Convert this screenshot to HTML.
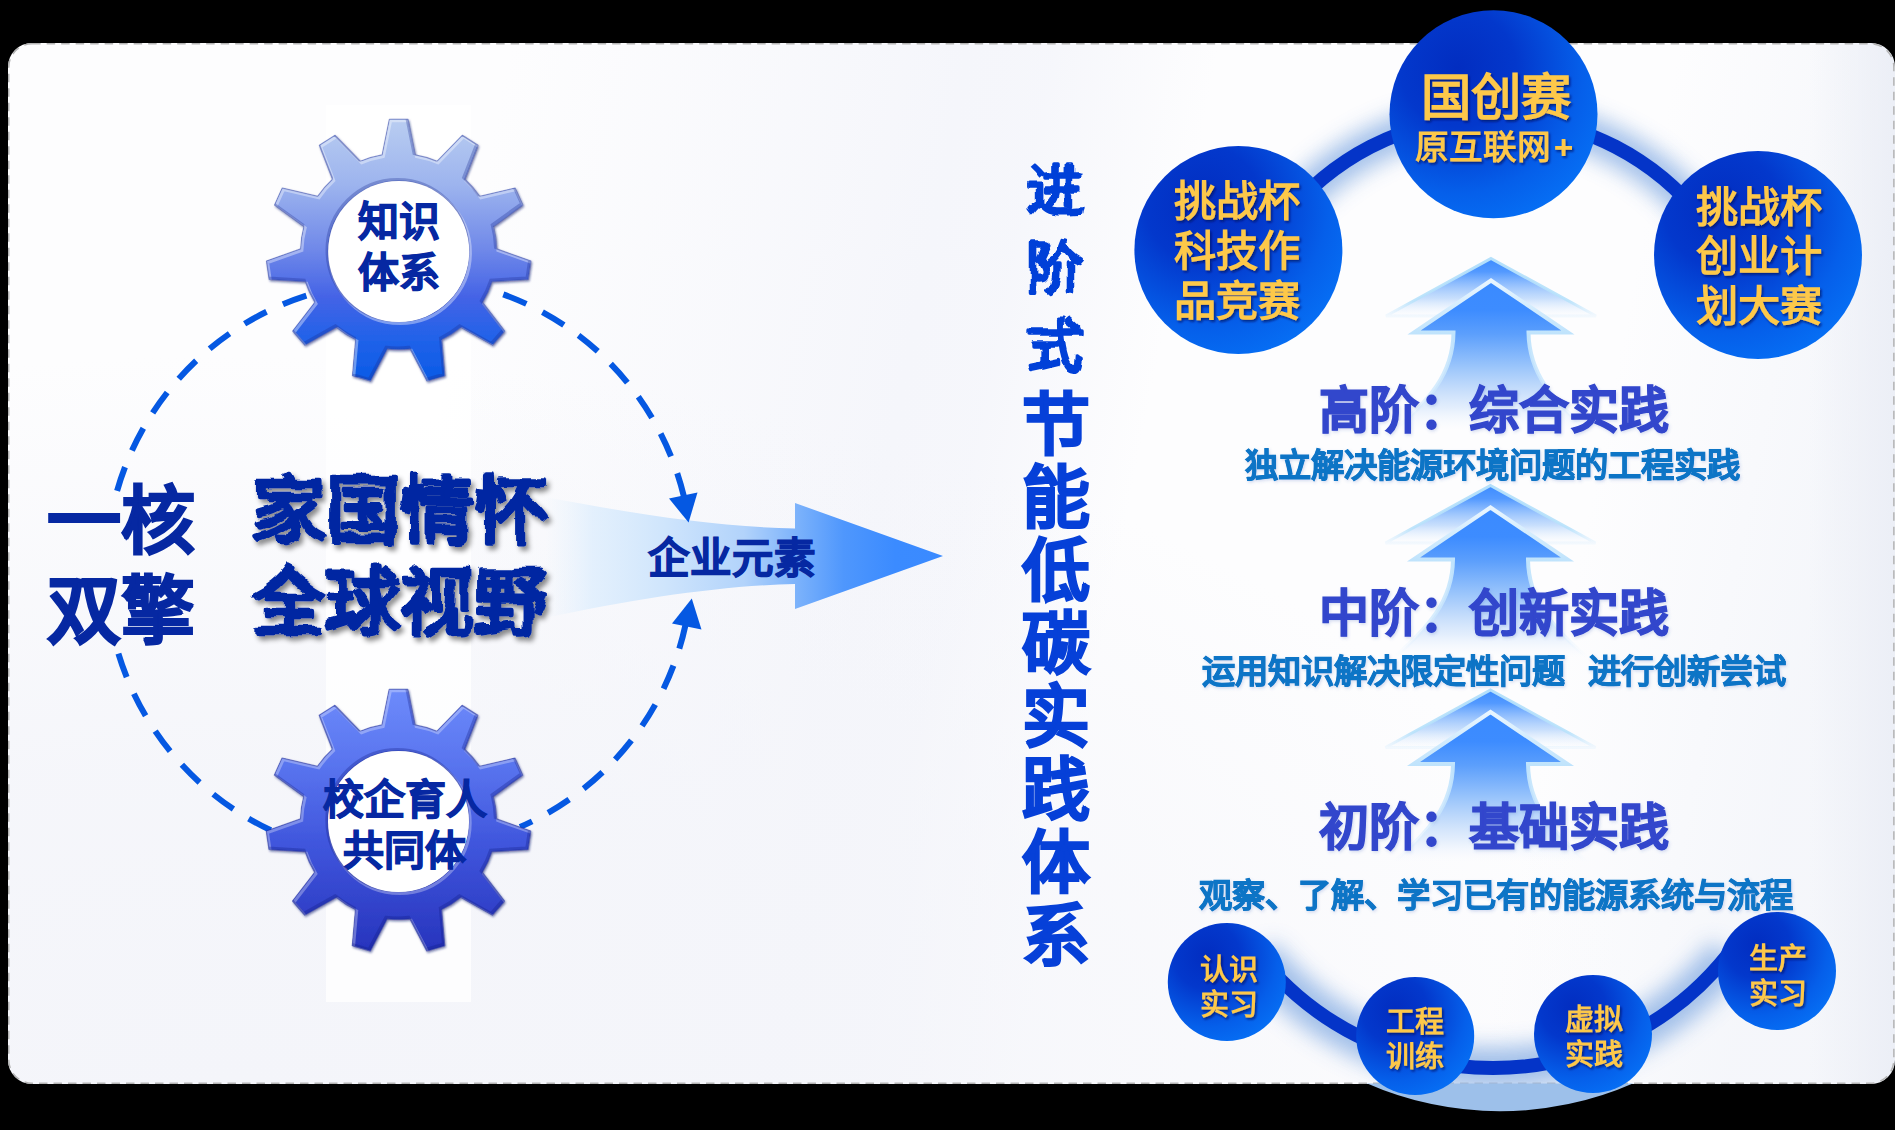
<!DOCTYPE html>
<html lang="zh-CN">
<head>
<meta charset="utf-8">
<title>进阶式节能低碳实践体系</title>
<style>
html,body{margin:0;padding:0;background:#000;}
body{width:1895px;height:1130px;position:relative;overflow:hidden;font-family:"Liberation Sans", sans-serif;}
#card{position:absolute;left:8px;top:43px;width:1886.6px;height:1041px;border-radius:24px;
  background:linear-gradient(90deg,rgba(234,237,245,0) 95.5%,rgba(234,237,245,0.85) 100%),
   radial-gradient(ellipse 75% 70% at 12% 100%,rgba(244,245,250,1) 0%,rgba(244,245,250,0.85) 45%,rgba(244,245,250,0) 100%),
   linear-gradient(101deg,rgba(245,246,251,0) 24%,rgba(245,246,251,1) 46%,rgba(245,246,251,0.9) 50%,rgba(245,246,251,0) 58%,rgba(245,246,251,0) 80%,rgba(243,245,250,0.8) 92%),
   #fdfdfe;
  box-sizing:border-box;}
#band{position:absolute;left:326px;top:105px;width:145px;height:897px;background:rgba(255,255,255,0.8);}
svg{position:absolute;left:0;top:0;}
svg text{font-family:"Liberation Sans", sans-serif;font-weight:bold;text-anchor:middle;}
svg text.cal{font-family:"Liberation Sans", sans-serif;font-weight:bold;}
</style>
</head>
<body>
<div id="card"></div>
<div id="band"></div>
<svg width="1895" height="1130" viewBox="0 0 1895 1130">
<defs>
  <linearGradient id="g1" x1="0" y1="0" x2="0" y2="1">
    <stop offset="0" stop-color="#b9cdf1"/><stop offset="0.25" stop-color="#9db4ee"/><stop offset="0.5" stop-color="#6f88e9"/><stop offset="0.68" stop-color="#4463e6"/><stop offset="0.85" stop-color="#1f62e9"/><stop offset="1" stop-color="#0a5ae6"/>
  </linearGradient>
  <linearGradient id="g2" x1="0" y1="0" x2="0" y2="1">
    <stop offset="0" stop-color="#6d8bfb"/><stop offset="0.3" stop-color="#5873ee"/><stop offset="0.6" stop-color="#3f55dc"/><stop offset="1" stop-color="#2734bd"/>
  </linearGradient>
  <radialGradient id="cg" cx="0.33" cy="0.28" r="0.8">
    <stop offset="0" stop-color="#022dc0"/><stop offset="0.35" stop-color="#0338cc"/><stop offset="0.75" stop-color="#055fea"/><stop offset="1" stop-color="#0670f5"/>
  </radialGradient>
  <linearGradient id="harrow" gradientUnits="userSpaceOnUse" x1="545" y1="0" x2="943" y2="0">
    <stop offset="0" stop-color="#e4f1fd" stop-opacity="0"/><stop offset="0.12" stop-color="#dcedfd" stop-opacity="0.75"/><stop offset="0.3" stop-color="#cfe5fc"/><stop offset="0.5" stop-color="#b2d3fb"/><stop offset="0.63" stop-color="#7db3fb"/><stop offset="0.75" stop-color="#4f97fd"/><stop offset="0.88" stop-color="#3b8bff"/><stop offset="1" stop-color="#3a8aff"/>
  </linearGradient>
  <filter id="glow" filterUnits="userSpaceOnUse" x="1000" y="0" width="895" height="1130"><feGaussianBlur stdDeviation="10.5"/></filter>
  <filter id="tsh" x="-10%" y="-20%" width="120%" height="150%"><feTurbulence type="fractalNoise" baseFrequency="0.045" numOctaves="2" seed="7" result="n"/><feDisplacementMap in="SourceGraphic" in2="n" scale="9" xChannelSelector="R" yChannelSelector="G" result="d"/><feDropShadow in="d" dx="3" dy="4" stdDeviation="2.5" flood-color="#000" flood-opacity="0.45"/></filter>
  <filter id="brush" x="-20%" y="-20%" width="140%" height="140%"><feTurbulence type="fractalNoise" baseFrequency="0.05" numOctaves="2" seed="3" result="n"/><feDisplacementMap in="SourceGraphic" in2="n" scale="8" xChannelSelector="R" yChannelSelector="G"/></filter>
  <filter id="gsh" x="-10%" y="-20%" width="120%" height="150%"><feDropShadow dx="1.5" dy="2" stdDeviation="1.2" flood-color="#001060" flood-opacity="0.7"/></filter>
  <filter id="hsh" x="-5%" y="-20%" width="110%" height="150%"><feDropShadow dx="1" dy="1.5" stdDeviation="1.5" flood-color="#4060c0" flood-opacity="0.22"/></filter>
  <filter id="gearsh" x="-10%" y="-10%" width="120%" height="120%"><feDropShadow dx="1" dy="1.5" stdDeviation="1.2" flood-color="#0a1a70" flood-opacity="0.6"/></filter>
  <clipPath id="gc1"><path d="M382.2 154.9 L389.4 119.3 L408.0 119.3 L415.2 154.9 A98 98 0 0 1 437.0 161.3 L462.3 135.3 L478.0 145.3 L464.8 179.2 A98 98 0 0 1 479.7 196.4 L515.1 188.1 L522.8 205.1 L493.4 226.4 A98 98 0 0 1 496.7 248.9 L530.9 261.1 L528.2 279.5 L492.0 281.6 A98 98 0 0 1 482.5 302.3 L504.7 331.0 L492.5 345.1 L460.9 327.2 A98 98 0 0 1 441.7 339.5 L444.9 375.7 L427.0 380.9 L410.1 348.8 A98 98 0 0 1 387.3 348.8 L370.4 380.9 L352.5 375.7 L355.7 339.5 A98 98 0 0 1 336.5 327.2 L304.9 345.1 L292.7 331.0 L314.9 302.3 A98 98 0 0 1 305.4 281.6 L269.2 279.5 L266.5 261.1 L300.7 248.9 A98 98 0 0 1 304.0 226.4 L274.6 205.1 L282.3 188.1 L317.7 196.4 A98 98 0 0 1 332.6 179.2 L319.4 145.3 L335.1 135.3 L360.4 161.3 A98 98 0 0 1 382.2 154.9 Z M328.2 251.5 A70 70 0 1 0 469.2 251.5 A70 70 0 1 0 328.2 251.5 Z" clip-rule="evenodd"/></clipPath>
  <clipPath id="gc2"><path d="M382.0 724.9 L389.2 689.3 L407.8 689.3 L415.0 724.9 A98 98 0 0 1 436.8 731.3 L462.1 705.3 L477.8 715.3 L464.6 749.2 A98 98 0 0 1 479.5 766.4 L514.9 758.1 L522.6 775.1 L493.2 796.4 A98 98 0 0 1 496.5 818.9 L530.7 831.1 L528.0 849.5 L491.8 851.6 A98 98 0 0 1 482.3 872.3 L504.5 901.0 L492.3 915.1 L460.7 897.2 A98 98 0 0 1 441.5 909.5 L444.7 945.7 L426.8 950.9 L409.9 918.8 A98 98 0 0 1 387.1 918.8 L370.2 950.9 L352.3 945.7 L355.5 909.5 A98 98 0 0 1 336.3 897.2 L304.7 915.1 L292.5 901.0 L314.7 872.3 A98 98 0 0 1 305.2 851.6 L269.0 849.5 L266.3 831.1 L300.5 818.9 A98 98 0 0 1 303.8 796.4 L274.4 775.1 L282.1 758.1 L317.5 766.4 A98 98 0 0 1 332.4 749.2 L319.2 715.3 L334.9 705.3 L360.2 731.3 A98 98 0 0 1 382.0 724.9 Z M328.0 821.5 A70 70 0 1 0 469.0 821.5 A70 70 0 1 0 328.0 821.5 Z" clip-rule="evenodd"/></clipPath>
  <clipPath id="below"><rect x="0" y="1083.5" width="1895" height="60"/></clipPath>
  <clipPath id="cardclip"><rect x="8" y="43" width="1886.6" height="1041" rx="24"/></clipPath>
</defs>

<rect x="8.75" y="43.75" width="1885.1" height="1039.5" rx="23.4" fill="none" stroke="#b4b4b4" stroke-width="1.5" stroke-dasharray="8.5 6"/>

<!-- horizontal arrow -->
<path d="M545 497 C640 515 720 527 795 528.5 L795 503 L943 556 L795 609 L795 584 C720 586 640 598 545 618 Z" fill="url(#harrow)"/>

<!-- dashed circle -->
<g fill="none" stroke="#0558e2" stroke-width="6" stroke-dasharray="25 18">
  <path d="M117.1 490.8 A288 288 0 0 1 312.5 293.8"/>
  <path d="M118.4 653.7 A288 288 0 0 0 284.8 836.5"/>
  <path d="M684.1 497.2 A287 287 0 0 0 487.9 289.2"/>
  <path d="M685.6 624.5 A287 287 0 0 1 520.0 827.0"/>
</g>
<path d="M688.6 522.5 L669 498.5 L697.5 492.5 Z" fill="#0558e2"/>
<path d="M691.8 598.5 L672 623.5 L701.5 629.5 Z" fill="#0558e2"/>

<!-- gears -->
<path d="M382.2 154.9 L389.4 119.3 L408.0 119.3 L415.2 154.9 A98 98 0 0 1 437.0 161.3 L462.3 135.3 L478.0 145.3 L464.8 179.2 A98 98 0 0 1 479.7 196.4 L515.1 188.1 L522.8 205.1 L493.4 226.4 A98 98 0 0 1 496.7 248.9 L530.9 261.1 L528.2 279.5 L492.0 281.6 A98 98 0 0 1 482.5 302.3 L504.7 331.0 L492.5 345.1 L460.9 327.2 A98 98 0 0 1 441.7 339.5 L444.9 375.7 L427.0 380.9 L410.1 348.8 A98 98 0 0 1 387.3 348.8 L370.4 380.9 L352.5 375.7 L355.7 339.5 A98 98 0 0 1 336.5 327.2 L304.9 345.1 L292.7 331.0 L314.9 302.3 A98 98 0 0 1 305.4 281.6 L269.2 279.5 L266.5 261.1 L300.7 248.9 A98 98 0 0 1 304.0 226.4 L274.6 205.1 L282.3 188.1 L317.7 196.4 A98 98 0 0 1 332.6 179.2 L319.4 145.3 L335.1 135.3 L360.4 161.3 A98 98 0 0 1 382.2 154.9 Z M328.2 251.5 A70 70 0 1 0 469.2 251.5 A70 70 0 1 0 328.2 251.5 Z" fill="url(#g1)" fill-rule="evenodd" stroke="#3a4fae" stroke-opacity="0.55" stroke-width="1.2" stroke-linejoin="round" filter="url(#gearsh)"/>
<g clip-path="url(#gc1)"><path d="M382.2 154.9 L389.4 119.3 L408.0 119.3 L415.2 154.9 A98 98 0 0 1 437.0 161.3 L462.3 135.3 L478.0 145.3 L464.8 179.2 A98 98 0 0 1 479.7 196.4 L515.1 188.1 L522.8 205.1 L493.4 226.4 A98 98 0 0 1 496.7 248.9 L530.9 261.1 L528.2 279.5 L492.0 281.6 A98 98 0 0 1 482.5 302.3 L504.7 331.0 L492.5 345.1 L460.9 327.2 A98 98 0 0 1 441.7 339.5 L444.9 375.7 L427.0 380.9 L410.1 348.8 A98 98 0 0 1 387.3 348.8 L370.4 380.9 L352.5 375.7 L355.7 339.5 A98 98 0 0 1 336.5 327.2 L304.9 345.1 L292.7 331.0 L314.9 302.3 A98 98 0 0 1 305.4 281.6 L269.2 279.5 L266.5 261.1 L300.7 248.9 A98 98 0 0 1 304.0 226.4 L274.6 205.1 L282.3 188.1 L317.7 196.4 A98 98 0 0 1 332.6 179.2 L319.4 145.3 L335.1 135.3 L360.4 161.3 A98 98 0 0 1 382.2 154.9 Z M328.2 251.5 A70 70 0 1 0 469.2 251.5 A70 70 0 1 0 328.2 251.5 Z" fill="none" stroke="#fff" stroke-opacity="0.38" stroke-width="3" transform="translate(1.2,1.5)"/><path d="M382.2 154.9 L389.4 119.3 L408.0 119.3 L415.2 154.9 A98 98 0 0 1 437.0 161.3 L462.3 135.3 L478.0 145.3 L464.8 179.2 A98 98 0 0 1 479.7 196.4 L515.1 188.1 L522.8 205.1 L493.4 226.4 A98 98 0 0 1 496.7 248.9 L530.9 261.1 L528.2 279.5 L492.0 281.6 A98 98 0 0 1 482.5 302.3 L504.7 331.0 L492.5 345.1 L460.9 327.2 A98 98 0 0 1 441.7 339.5 L444.9 375.7 L427.0 380.9 L410.1 348.8 A98 98 0 0 1 387.3 348.8 L370.4 380.9 L352.5 375.7 L355.7 339.5 A98 98 0 0 1 336.5 327.2 L304.9 345.1 L292.7 331.0 L314.9 302.3 A98 98 0 0 1 305.4 281.6 L269.2 279.5 L266.5 261.1 L300.7 248.9 A98 98 0 0 1 304.0 226.4 L274.6 205.1 L282.3 188.1 L317.7 196.4 A98 98 0 0 1 332.6 179.2 L319.4 145.3 L335.1 135.3 L360.4 161.3 A98 98 0 0 1 382.2 154.9 Z M328.2 251.5 A70 70 0 1 0 469.2 251.5 A70 70 0 1 0 328.2 251.5 Z" fill="none" stroke="#1a2a90" stroke-opacity="0.3" stroke-width="3" transform="translate(-1.2,-1.5)"/></g>
<circle cx="398.7" cy="251.5" r="70.5" fill="#fff"/>
<path d="M382.0 724.9 L389.2 689.3 L407.8 689.3 L415.0 724.9 A98 98 0 0 1 436.8 731.3 L462.1 705.3 L477.8 715.3 L464.6 749.2 A98 98 0 0 1 479.5 766.4 L514.9 758.1 L522.6 775.1 L493.2 796.4 A98 98 0 0 1 496.5 818.9 L530.7 831.1 L528.0 849.5 L491.8 851.6 A98 98 0 0 1 482.3 872.3 L504.5 901.0 L492.3 915.1 L460.7 897.2 A98 98 0 0 1 441.5 909.5 L444.7 945.7 L426.8 950.9 L409.9 918.8 A98 98 0 0 1 387.1 918.8 L370.2 950.9 L352.3 945.7 L355.5 909.5 A98 98 0 0 1 336.3 897.2 L304.7 915.1 L292.5 901.0 L314.7 872.3 A98 98 0 0 1 305.2 851.6 L269.0 849.5 L266.3 831.1 L300.5 818.9 A98 98 0 0 1 303.8 796.4 L274.4 775.1 L282.1 758.1 L317.5 766.4 A98 98 0 0 1 332.4 749.2 L319.2 715.3 L334.9 705.3 L360.2 731.3 A98 98 0 0 1 382.0 724.9 Z M328.0 821.5 A70 70 0 1 0 469.0 821.5 A70 70 0 1 0 328.0 821.5 Z" fill="url(#g2)" fill-rule="evenodd" stroke="#2030a0" stroke-opacity="0.55" stroke-width="1.2" stroke-linejoin="round" filter="url(#gearsh)"/>
<g clip-path="url(#gc2)"><path d="M382.0 724.9 L389.2 689.3 L407.8 689.3 L415.0 724.9 A98 98 0 0 1 436.8 731.3 L462.1 705.3 L477.8 715.3 L464.6 749.2 A98 98 0 0 1 479.5 766.4 L514.9 758.1 L522.6 775.1 L493.2 796.4 A98 98 0 0 1 496.5 818.9 L530.7 831.1 L528.0 849.5 L491.8 851.6 A98 98 0 0 1 482.3 872.3 L504.5 901.0 L492.3 915.1 L460.7 897.2 A98 98 0 0 1 441.5 909.5 L444.7 945.7 L426.8 950.9 L409.9 918.8 A98 98 0 0 1 387.1 918.8 L370.2 950.9 L352.3 945.7 L355.5 909.5 A98 98 0 0 1 336.3 897.2 L304.7 915.1 L292.5 901.0 L314.7 872.3 A98 98 0 0 1 305.2 851.6 L269.0 849.5 L266.3 831.1 L300.5 818.9 A98 98 0 0 1 303.8 796.4 L274.4 775.1 L282.1 758.1 L317.5 766.4 A98 98 0 0 1 332.4 749.2 L319.2 715.3 L334.9 705.3 L360.2 731.3 A98 98 0 0 1 382.0 724.9 Z M328.0 821.5 A70 70 0 1 0 469.0 821.5 A70 70 0 1 0 328.0 821.5 Z" fill="none" stroke="#fff" stroke-opacity="0.3" stroke-width="3" transform="translate(1.2,1.5)"/><path d="M382.0 724.9 L389.2 689.3 L407.8 689.3 L415.0 724.9 A98 98 0 0 1 436.8 731.3 L462.1 705.3 L477.8 715.3 L464.6 749.2 A98 98 0 0 1 479.5 766.4 L514.9 758.1 L522.6 775.1 L493.2 796.4 A98 98 0 0 1 496.5 818.9 L530.7 831.1 L528.0 849.5 L491.8 851.6 A98 98 0 0 1 482.3 872.3 L504.5 901.0 L492.3 915.1 L460.7 897.2 A98 98 0 0 1 441.5 909.5 L444.7 945.7 L426.8 950.9 L409.9 918.8 A98 98 0 0 1 387.1 918.8 L370.2 950.9 L352.3 945.7 L355.5 909.5 A98 98 0 0 1 336.3 897.2 L304.7 915.1 L292.5 901.0 L314.7 872.3 A98 98 0 0 1 305.2 851.6 L269.0 849.5 L266.3 831.1 L300.5 818.9 A98 98 0 0 1 303.8 796.4 L274.4 775.1 L282.1 758.1 L317.5 766.4 A98 98 0 0 1 332.4 749.2 L319.2 715.3 L334.9 705.3 L360.2 731.3 A98 98 0 0 1 382.0 724.9 Z M328.0 821.5 A70 70 0 1 0 469.0 821.5 A70 70 0 1 0 328.0 821.5 Z" fill="none" stroke="#101a80" stroke-opacity="0.3" stroke-width="3" transform="translate(-1.2,-1.5)"/></g>
<circle cx="398.5" cy="821.5" r="70.5" fill="#fff"/>

<!-- up arrows -->

  <linearGradient id="chevF1" gradientUnits="userSpaceOnUse" x1="0" y1="257" x2="0" y2="316">
    <stop offset="0" stop-color="#3a8aff"/><stop offset="0.25" stop-color="#4a94ff" stop-opacity="0.95"/><stop offset="0.7" stop-color="#9cc6fb" stop-opacity="0.55"/><stop offset="1" stop-color="#d8eafd" stop-opacity="0"/>
  </linearGradient>
  <linearGradient id="chevS1" gradientUnits="userSpaceOnUse" x1="0" y1="257" x2="0" y2="316">
    <stop offset="0" stop-color="#b4e0fb"/><stop offset="0.75" stop-color="#b8e2fb" stop-opacity="0.9"/><stop offset="1" stop-color="#dff0fd" stop-opacity="0.35"/>
  </linearGradient>
  <linearGradient id="mainF1" gradientUnits="userSpaceOnUse" x1="0" y1="278" x2="0" y2="438">
    <stop offset="0" stop-color="#3a8aff"/><stop offset="0.2" stop-color="#3d8cff"/><stop offset="0.35" stop-color="#5c9ffc"/><stop offset="0.56" stop-color="#9cc6fb"/><stop offset="0.69" stop-color="#c0dafb" stop-opacity="0.95"/><stop offset="0.81" stop-color="#dceafc" stop-opacity="0.8"/><stop offset="0.95" stop-color="#f2f7fe" stop-opacity="0"/>
  </linearGradient>
  <linearGradient id="mainS1" gradientUnits="userSpaceOnUse" x1="0" y1="278" x2="0" y2="438">
    <stop offset="0" stop-color="#eaf6ff"/><stop offset="0.35" stop-color="#bfe3fc"/><stop offset="0.7" stop-color="#cfe9fd" stop-opacity="0.8"/><stop offset="0.95" stop-color="#e6f3fe" stop-opacity="0"/>
  </linearGradient>
  <path d="M1491 258.5 L1596 316 L1386 316 Z" fill="url(#chevF1)" stroke="url(#chevS1)" stroke-width="3" stroke-linejoin="miter"/>
  <path d="M1491 280.5 L1568 332.5 L1528.5 332.5 C1529 373 1551 400 1596 438 L1386 438 C1431 400 1453 373 1453.5 332.5 L1414 332.5 Z" fill="url(#mainF1)" stroke="url(#mainS1)" stroke-width="4" stroke-linejoin="miter"/>

  <linearGradient id="chevF2" gradientUnits="userSpaceOnUse" x1="0" y1="484" x2="0" y2="543">
    <stop offset="0" stop-color="#3a8aff"/><stop offset="0.25" stop-color="#4a94ff" stop-opacity="0.95"/><stop offset="0.7" stop-color="#9cc6fb" stop-opacity="0.55"/><stop offset="1" stop-color="#d8eafd" stop-opacity="0"/>
  </linearGradient>
  <linearGradient id="chevS2" gradientUnits="userSpaceOnUse" x1="0" y1="484" x2="0" y2="543">
    <stop offset="0" stop-color="#b4e0fb"/><stop offset="0.75" stop-color="#b8e2fb" stop-opacity="0.9"/><stop offset="1" stop-color="#dff0fd" stop-opacity="0.35"/>
  </linearGradient>
  <linearGradient id="mainF2" gradientUnits="userSpaceOnUse" x1="0" y1="505" x2="0" y2="665">
    <stop offset="0" stop-color="#3a8aff"/><stop offset="0.2" stop-color="#3d8cff"/><stop offset="0.35" stop-color="#5c9ffc"/><stop offset="0.56" stop-color="#9cc6fb"/><stop offset="0.69" stop-color="#c0dafb" stop-opacity="0.95"/><stop offset="0.81" stop-color="#dceafc" stop-opacity="0.8"/><stop offset="0.95" stop-color="#f2f7fe" stop-opacity="0"/>
  </linearGradient>
  <linearGradient id="mainS2" gradientUnits="userSpaceOnUse" x1="0" y1="505" x2="0" y2="665">
    <stop offset="0" stop-color="#eaf6ff"/><stop offset="0.35" stop-color="#bfe3fc"/><stop offset="0.7" stop-color="#cfe9fd" stop-opacity="0.8"/><stop offset="0.95" stop-color="#e6f3fe" stop-opacity="0"/>
  </linearGradient>
  <path d="M1490.5 485.5 L1595.5 543 L1385.5 543 Z" fill="url(#chevF2)" stroke="url(#chevS2)" stroke-width="3" stroke-linejoin="miter"/>
  <path d="M1490.5 507.5 L1567.5 559.5 L1528.0 559.5 C1528.5 600 1550.5 627 1595.5 665 L1385.5 665 C1430.5 627 1452.5 600 1453.0 559.5 L1413.5 559.5 Z" fill="url(#mainF2)" stroke="url(#mainS2)" stroke-width="4" stroke-linejoin="miter"/>

  <linearGradient id="chevF3" gradientUnits="userSpaceOnUse" x1="0" y1="688.5" x2="0" y2="747.5">
    <stop offset="0" stop-color="#3a8aff"/><stop offset="0.25" stop-color="#4a94ff" stop-opacity="0.95"/><stop offset="0.7" stop-color="#9cc6fb" stop-opacity="0.55"/><stop offset="1" stop-color="#d8eafd" stop-opacity="0"/>
  </linearGradient>
  <linearGradient id="chevS3" gradientUnits="userSpaceOnUse" x1="0" y1="688.5" x2="0" y2="747.5">
    <stop offset="0" stop-color="#b4e0fb"/><stop offset="0.75" stop-color="#b8e2fb" stop-opacity="0.9"/><stop offset="1" stop-color="#dff0fd" stop-opacity="0.35"/>
  </linearGradient>
  <linearGradient id="mainF3" gradientUnits="userSpaceOnUse" x1="0" y1="709.5" x2="0" y2="869.5">
    <stop offset="0" stop-color="#3a8aff"/><stop offset="0.2" stop-color="#3d8cff"/><stop offset="0.35" stop-color="#5c9ffc"/><stop offset="0.56" stop-color="#9cc6fb"/><stop offset="0.69" stop-color="#c0dafb" stop-opacity="0.95"/><stop offset="0.81" stop-color="#dceafc" stop-opacity="0.8"/><stop offset="0.95" stop-color="#f2f7fe" stop-opacity="0"/>
  </linearGradient>
  <linearGradient id="mainS3" gradientUnits="userSpaceOnUse" x1="0" y1="709.5" x2="0" y2="869.5">
    <stop offset="0" stop-color="#eaf6ff"/><stop offset="0.35" stop-color="#bfe3fc"/><stop offset="0.7" stop-color="#cfe9fd" stop-opacity="0.8"/><stop offset="0.95" stop-color="#e6f3fe" stop-opacity="0"/>
  </linearGradient>
  <path d="M1490.5 690.0 L1595.5 747.5 L1385.5 747.5 Z" fill="url(#chevF3)" stroke="url(#chevS3)" stroke-width="3" stroke-linejoin="miter"/>
  <path d="M1490.5 712.0 L1567.5 764.0 L1528.0 764.0 C1528.5 804.5 1550.5 831.5 1595.5 869.5 L1385.5 869.5 C1430.5 831.5 1452.5 804.5 1453.0 764.0 L1413.5 764.0 Z" fill="url(#mainF3)" stroke="url(#mainS3)" stroke-width="4" stroke-linejoin="miter"/>

<!-- arcs + glow -->
<g clip-path="url(#cardclip)">
<path d="M1283.4 219.2 A266.0 266.0 0 0 1 1702.6 219.2" fill="none" stroke="#98b9e7" stroke-width="36" filter="url(#glow)" opacity="0.9"/>
<path d="M1258.2 954.8 A300.0 300.0 0 0 0 1727.8 954.8" fill="none" stroke="#98b9e7" stroke-width="42" filter="url(#glow)" opacity="0.9"/>
</g>
<g clip-path="url(#below)"><path d="M1366 1083 A332 332 0 0 0 1634 1083 Z" fill="#9dc0ea"/></g>
<path d="M1283.4 219.2 A266.0 266.0 0 0 1 1702.6 219.2" fill="none" stroke="#0434c8" stroke-width="14"/>
<path d="M1258.2 954.8 A300.0 300.0 0 0 0 1727.8 954.8" fill="none" stroke="#0434c8" stroke-width="14"/>

<!-- circles -->
<circle cx="1493.5" cy="114.3" r="104" fill="url(#cg)"/>
<circle cx="1238.4" cy="250" r="104" fill="url(#cg)"/>
<circle cx="1758" cy="255" r="104" fill="url(#cg)"/>
<circle cx="1226.8" cy="982" r="59" fill="url(#cg)"/>
<circle cx="1415.2" cy="1036" r="59" fill="url(#cg)"/>
<circle cx="1593" cy="1034" r="59" fill="url(#cg)"/>
<circle cx="1777" cy="971" r="59" fill="url(#cg)"/>

<!-- text -->
  <text x="398.7" y="236.4" font-size="41" fill="#0628a2" stroke="#0628a2" stroke-width="1.07" stroke-linejoin="miter" stroke-miterlimit="2" >知识</text>
  <text x="398.7" y="286.6" font-size="41" fill="#0628a2" stroke="#0628a2" stroke-width="1.07" stroke-linejoin="miter" stroke-miterlimit="2" >体系</text>
  <text x="405" y="813.6" font-size="41" fill="#0628a2" stroke="#0628a2" stroke-width="1.07" stroke-linejoin="miter" stroke-miterlimit="2" >校企育人</text>
  <text x="404" y="864.6" font-size="41" fill="#0628a2" stroke="#0628a2" stroke-width="1.07" stroke-linejoin="miter" stroke-miterlimit="2" >共同体</text>
  <text x="120.5" y="547.1" font-size="74" fill="#0628a2" stroke="#0628a2" stroke-width="1.78" stroke-linejoin="miter" stroke-miterlimit="2" >一核</text>
  <text x="120.5" y="637.1" font-size="74" fill="#0628a2" stroke="#0628a2" stroke-width="1.78" stroke-linejoin="miter" stroke-miterlimit="2" >双擎</text>
  <text x="400" y="537.1" font-size="74" fill="#0628a2" stroke="#0628a2" stroke-width="2.22" stroke-linejoin="round" stroke-miterlimit="2" class="cal" filter="url(#tsh)">家国情怀</text>
  <text x="400" y="629.1" font-size="74" fill="#0628a2" stroke="#0628a2" stroke-width="2.22" stroke-linejoin="round" stroke-miterlimit="2" class="cal" filter="url(#tsh)">全球视野</text>
  <text x="732" y="572.8" font-size="41.5" fill="#0628a2" stroke="#0628a2" stroke-width="1.08" stroke-linejoin="miter" stroke-miterlimit="2" >企业元素</text>
  <text x="1055" y="210.3" font-size="56" fill="#0640d8" stroke="#0640d8" stroke-width="1.68" stroke-linejoin="round" stroke-miterlimit="2" filter="url(#brush)">进</text>
  <text x="1055" y="288.3" font-size="56" fill="#0640d8" stroke="#0640d8" stroke-width="1.68" stroke-linejoin="round" stroke-miterlimit="2" filter="url(#brush)">阶</text>
  <text x="1055" y="366.3" font-size="56" fill="#0640d8" stroke="#0640d8" stroke-width="1.68" stroke-linejoin="round" stroke-miterlimit="2" filter="url(#brush)">式</text>
  <text x="1055.5" y="449.3" font-size="68" fill="#0640d8" stroke="#0640d8" stroke-width="1.77" stroke-linejoin="miter" stroke-miterlimit="2" >节</text>
  <text x="1055.5" y="522.3" font-size="68" fill="#0640d8" stroke="#0640d8" stroke-width="1.77" stroke-linejoin="miter" stroke-miterlimit="2" >能</text>
  <text x="1055.5" y="595.3" font-size="68" fill="#0640d8" stroke="#0640d8" stroke-width="1.77" stroke-linejoin="miter" stroke-miterlimit="2" >低</text>
  <text x="1055.5" y="668.3" font-size="68" fill="#0640d8" stroke="#0640d8" stroke-width="1.77" stroke-linejoin="miter" stroke-miterlimit="2" >碳</text>
  <text x="1055.5" y="741.3" font-size="68" fill="#0640d8" stroke="#0640d8" stroke-width="1.77" stroke-linejoin="miter" stroke-miterlimit="2" >实</text>
  <text x="1055.5" y="814.3" font-size="68" fill="#0640d8" stroke="#0640d8" stroke-width="1.77" stroke-linejoin="miter" stroke-miterlimit="2" >践</text>
  <text x="1055.5" y="887.3" font-size="68" fill="#0640d8" stroke="#0640d8" stroke-width="1.77" stroke-linejoin="miter" stroke-miterlimit="2" >体</text>
  <text x="1055.5" y="960.3" font-size="68" fill="#0640d8" stroke="#0640d8" stroke-width="1.77" stroke-linejoin="miter" stroke-miterlimit="2" >系</text>
  <text x="1495.7" y="115.1" font-size="50.3" fill="#fdc84a" filter="url(#gsh)">国创赛</text>
  <text x="1494" y="158.8" font-size="33.6" fill="#fdc84a" filter="url(#gsh)">原互联网<tspan dx="3">+</tspan></text>
  <text x="1237" y="216.0" font-size="42.2" fill="#fdc84a" filter="url(#gsh)">挑战杯</text>
  <text x="1237" y="266.0" font-size="42.2" fill="#fdc84a" filter="url(#gsh)">科技作</text>
  <text x="1237" y="316.0" font-size="42.2" fill="#fdc84a" filter="url(#gsh)">品竞赛</text>
  <text x="1758.7" y="221.5" font-size="42.2" fill="#fdc84a" filter="url(#gsh)">挑战杯</text>
  <text x="1758.7" y="271.0" font-size="42.2" fill="#fdc84a" filter="url(#gsh)">创业计</text>
  <text x="1758.7" y="320.5" font-size="42.2" fill="#fdc84a" filter="url(#gsh)">划大赛</text>
  <text x="1493.7" y="428.0" font-size="50" fill="#3346cc" stroke="#3346cc" stroke-width="1.20" stroke-linejoin="miter" stroke-miterlimit="2" filter="url(#hsh)">高阶：综合实践</text>
  <text x="1492.5" y="476.7" font-size="33.3" fill="#0a74c6" stroke="#0a74c6" stroke-width="0.80" stroke-linejoin="miter" stroke-miterlimit="2" filter="url(#hsh)">独立解决能源环境问题的工程实践</text>
  <text x="1493.7" y="631.0" font-size="50" fill="#3346cc" stroke="#3346cc" stroke-width="1.20" stroke-linejoin="miter" stroke-miterlimit="2" filter="url(#hsh)">中阶：创新实践</text>
  <text x="1383" y="682.7" font-size="33.3" fill="#0a74c6" stroke="#0a74c6" stroke-width="0.80" stroke-linejoin="miter" stroke-miterlimit="2" filter="url(#hsh)">运用知识解决限定性问题</text>
  <text x="1686.7" y="682.7" font-size="33.3" fill="#0a74c6" stroke="#0a74c6" stroke-width="0.80" stroke-linejoin="miter" stroke-miterlimit="2" filter="url(#hsh)">进行创新尝试</text>
  <text x="1493.7" y="845.0" font-size="50" fill="#3346cc" stroke="#3346cc" stroke-width="1.20" stroke-linejoin="miter" stroke-miterlimit="2" filter="url(#hsh)">初阶：基础实践</text>
  <text x="1496" y="906.7" font-size="33.3" fill="#0a74c6" stroke="#0a74c6" stroke-width="0.80" stroke-linejoin="miter" stroke-miterlimit="2" filter="url(#hsh)">观察、了解、学习已有的能源系统与流程</text>
  <text x="1228.7" y="979.5" font-size="29" fill="#fdc84a" filter="url(#gsh)">认识</text>
  <text x="1228.7" y="1014.5" font-size="29" fill="#fdc84a" filter="url(#gsh)">实习</text>
  <text x="1415" y="1031.5" font-size="29" fill="#fdc84a" filter="url(#gsh)">工程</text>
  <text x="1415" y="1066.5" font-size="29" fill="#fdc84a" filter="url(#gsh)">训练</text>
  <text x="1594" y="1029.5" font-size="29" fill="#fdc84a" filter="url(#gsh)">虚拟</text>
  <text x="1594" y="1064.5" font-size="29" fill="#fdc84a" filter="url(#gsh)">实践</text>
  <text x="1777.5" y="969.0" font-size="29" fill="#fdc84a" filter="url(#gsh)">生产</text>
  <text x="1777.5" y="1004.0" font-size="29" fill="#fdc84a" filter="url(#gsh)">实习</text>
</svg>
</body>
</html>
